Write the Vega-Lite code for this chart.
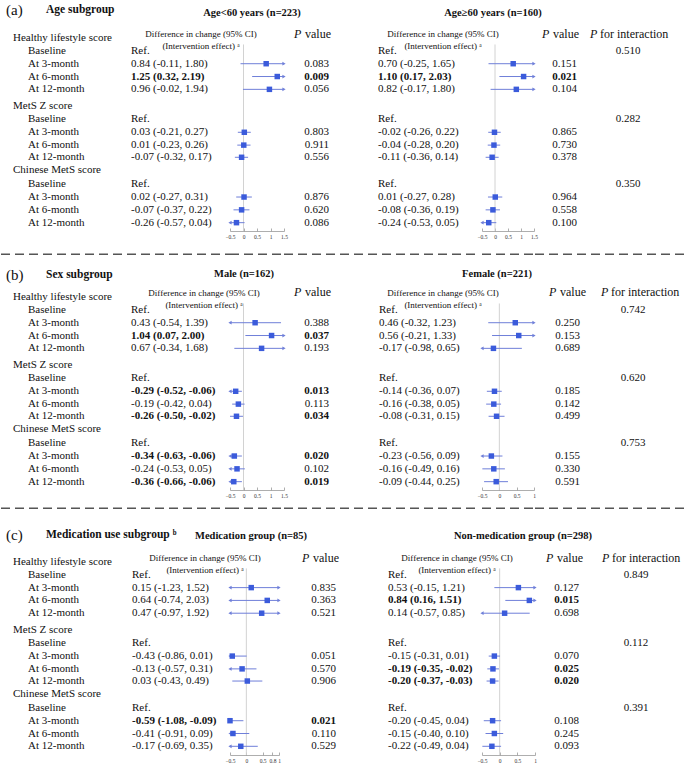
{
"$schema": "https://vega.github.io/schema/vega-lite/v6.json",
"padding": 0,
"columns": 5,
"align": "none",
"bounds": "flush",
"spacing": {"row": 28, "column": 0},
"datasets": {
"t": [
{"panel":"a","r":0,"k":"g","lab":"Healthy lifestyle score"},
{"panel":"a","r":1,"k":"i","lab":"Baseline","e1":"Ref.","e2":"Ref.","pi":0.510},
{"panel":"a","r":2,"k":"i","lab":"At 3-month","e1":"0.84 (-0.11, 1.80)","m1":0.84,"l1":-0.11,"h1":1.80,"p1":0.083,"e2":"0.70 (-0.25, 1.65)","m2":0.70,"l2":-0.25,"h2":1.65,"p2":0.151},
{"panel":"a","r":3,"k":"i","lab":"At 6-month","e1":"1.25 (0.32, 2.19)","m1":1.25,"l1":0.32,"h1":2.19,"p1":0.009,"e2":"1.10 (0.17, 2.03)","m2":1.10,"l2":0.17,"h2":2.03,"p2":0.021},
{"panel":"a","r":4,"k":"i","lab":"At 12-month","e1":"0.96 (-0.02, 1.94)","m1":0.96,"l1":-0.02,"h1":1.94,"p1":0.056,"e2":"0.82 (-0.17, 1.80)","m2":0.82,"l2":-0.17,"h2":1.80,"p2":0.104},
{"panel":"a","r":5.3,"k":"g","lab":"MetS Z score"},
{"panel":"a","r":6.35,"k":"i","lab":"Baseline","e1":"Ref.","e2":"Ref.","pi":0.282},
{"panel":"a","r":7.35,"k":"i","lab":"At 3-month","e1":"0.03 (-0.21, 0.27)","m1":0.03,"l1":-0.21,"h1":0.27,"p1":0.803,"e2":"-0.02 (-0.26, 0.22)","m2":-0.02,"l2":-0.26,"h2":0.22,"p2":0.865},
{"panel":"a","r":8.35,"k":"i","lab":"At 6-month","e1":"0.01 (-0.23, 0.26)","m1":0.01,"l1":-0.23,"h1":0.26,"p1":0.911,"e2":"-0.04 (-0.28, 0.20)","m2":-0.04,"l2":-0.28,"h2":0.20,"p2":0.730},
{"panel":"a","r":9.3,"k":"i","lab":"At 12-month","e1":"-0.07 (-0.32, 0.17)","m1":-0.07,"l1":-0.32,"h1":0.17,"p1":0.556,"e2":"-0.11 (-0.36, 0.14)","m2":-0.11,"l2":-0.36,"h2":0.14,"p2":0.378},
{"panel":"a","r":10.3,"k":"g","lab":"Chinese MetS score"},
{"panel":"a","r":11.4,"k":"i","lab":"Baseline","e1":"Ref.","e2":"Ref.","pi":0.350},
{"panel":"a","r":12.4,"k":"i","lab":"At 3-month","e1":"0.02 (-0.27, 0.31)","m1":0.02,"l1":-0.27,"h1":0.31,"p1":0.876,"e2":"0.01 (-0.27, 0.28)","m2":0.01,"l2":-0.27,"h2":0.28,"p2":0.964},
{"panel":"a","r":13.4,"k":"i","lab":"At 6-month","e1":"-0.07 (-0.37, 0.22)","m1":-0.07,"l1":-0.37,"h1":0.22,"p1":0.620,"e2":"-0.08 (-0.36, 0.19)","m2":-0.08,"l2":-0.36,"h2":0.19,"p2":0.558},
{"panel":"a","r":14.4,"k":"i","lab":"At 12-month","e1":"-0.26 (-0.57, 0.04)","m1":-0.26,"l1":-0.57,"h1":0.04,"p1":0.086,"e2":"-0.24 (-0.53, 0.05)","m2":-0.24,"l2":-0.53,"h2":0.05,"p2":0.100},
{"panel":"b","r":0,"k":"g","lab":"Healthy lifestyle score"},
{"panel":"b","r":1,"k":"i","lab":"Baseline","e1":"Ref.","e2":"Ref.","pi":0.742},
{"panel":"b","r":2,"k":"i","lab":"At 3-month","e1":"0.43 (-0.54, 1.39)","m1":0.43,"l1":-0.54,"h1":1.39,"p1":0.388,"e2":"0.46 (-0.32, 1.23)","m2":0.46,"l2":-0.32,"h2":1.23,"p2":0.250},
{"panel":"b","r":3,"k":"i","lab":"At 6-month","e1":"1.04 (0.07, 2.00)","m1":1.04,"l1":0.07,"h1":2.00,"p1":0.037,"e2":"0.56 (-0.21, 1.33)","m2":0.56,"l2":-0.21,"h2":1.33,"p2":0.153},
{"panel":"b","r":4,"k":"i","lab":"At 12-month","e1":"0.67 (-0.34, 1.68)","m1":0.67,"l1":-0.34,"h1":1.68,"p1":0.193,"e2":"-0.17 (-0.98, 0.65)","m2":-0.17,"l2":-0.98,"h2":0.65,"p2":0.689},
{"panel":"b","r":5.3,"k":"g","lab":"MetS Z score"},
{"panel":"b","r":6.35,"k":"i","lab":"Baseline","e1":"Ref.","e2":"Ref.","pi":0.620},
{"panel":"b","r":7.35,"k":"i","lab":"At 3-month","e1":"-0.29 (-0.52, -0.06)","m1":-0.29,"l1":-0.52,"h1":-0.06,"p1":0.013,"e2":"-0.14 (-0.36, 0.07)","m2":-0.14,"l2":-0.36,"h2":0.07,"p2":0.185},
{"panel":"b","r":8.35,"k":"i","lab":"At 6-month","e1":"-0.19 (-0.42, 0.04)","m1":-0.19,"l1":-0.42,"h1":0.04,"p1":0.113,"e2":"-0.16 (-0.38, 0.05)","m2":-0.16,"l2":-0.38,"h2":0.05,"p2":0.142},
{"panel":"b","r":9.3,"k":"i","lab":"At 12-month","e1":"-0.26 (-0.50, -0.02)","m1":-0.26,"l1":-0.50,"h1":-0.02,"p1":0.034,"e2":"-0.08 (-0.31, 0.15)","m2":-0.08,"l2":-0.31,"h2":0.15,"p2":0.499},
{"panel":"b","r":10.3,"k":"g","lab":"Chinese MetS score"},
{"panel":"b","r":11.4,"k":"i","lab":"Baseline","e1":"Ref.","e2":"Ref.","pi":0.753},
{"panel":"b","r":12.4,"k":"i","lab":"At 3-month","e1":"-0.34 (-0.63, -0.06)","m1":-0.34,"l1":-0.63,"h1":-0.06,"p1":0.020,"e2":"-0.23 (-0.56, 0.09)","m2":-0.23,"l2":-0.56,"h2":0.09,"p2":0.155},
{"panel":"b","r":13.4,"k":"i","lab":"At 6-month","e1":"-0.24 (-0.53, 0.05)","m1":-0.24,"l1":-0.53,"h1":0.05,"p1":0.102,"e2":"-0.16 (-0.49, 0.16)","m2":-0.16,"l2":-0.49,"h2":0.16,"p2":0.330},
{"panel":"b","r":14.4,"k":"i","lab":"At 12-month","e1":"-0.36 (-0.66, -0.06)","m1":-0.36,"l1":-0.66,"h1":-0.06,"p1":0.019,"e2":"-0.09 (-0.44, 0.25)","m2":-0.09,"l2":-0.44,"h2":0.25,"p2":0.591},
{"panel":"c","r":0,"k":"g","lab":"Healthy lifestyle score"},
{"panel":"c","r":1,"k":"i","lab":"Baseline","e1":"Ref.","e2":"Ref.","pi":0.849},
{"panel":"c","r":2,"k":"i","lab":"At 3-month","e1":"0.15 (-1.23, 1.52)","m1":0.15,"l1":-1.23,"h1":1.52,"p1":0.835,"e2":"0.53 (-0.15, 1.21)","m2":0.53,"l2":-0.15,"h2":1.21,"p2":0.127},
{"panel":"c","r":3,"k":"i","lab":"At 6-month","e1":"0.64 (-0.74, 2.03)","m1":0.64,"l1":-0.74,"h1":2.03,"p1":0.363,"e2":"0.84 (0.16, 1.51)","m2":0.84,"l2":0.16,"h2":1.51,"p2":0.015},
{"panel":"c","r":4,"k":"i","lab":"At 12-month","e1":"0.47 (-0.97, 1.92)","m1":0.47,"l1":-0.97,"h1":1.92,"p1":0.521,"e2":"0.14 (-0.57, 0.85)","m2":0.14,"l2":-0.57,"h2":0.85,"p2":0.698},
{"panel":"c","r":5.3,"k":"g","lab":"MetS Z score"},
{"panel":"c","r":6.35,"k":"i","lab":"Baseline","e1":"Ref.","e2":"Ref.","pi":0.112},
{"panel":"c","r":7.35,"k":"i","lab":"At 3-month","e1":"-0.43 (-0.86, 0.01)","m1":-0.43,"l1":-0.86,"h1":0.01,"p1":0.051,"e2":"-0.15 (-0.31, 0.01)","m2":-0.15,"l2":-0.31,"h2":0.01,"p2":0.070},
{"panel":"c","r":8.35,"k":"i","lab":"At 6-month","e1":"-0.13 (-0.57, 0.31)","m1":-0.13,"l1":-0.57,"h1":0.31,"p1":0.570,"e2":"-0.19 (-0.35, -0.02)","m2":-0.19,"l2":-0.35,"h2":-0.02,"p2":0.025},
{"panel":"c","r":9.3,"k":"i","lab":"At 12-month","e1":"0.03 (-0.43, 0.49)","m1":0.03,"l1":-0.43,"h1":0.49,"p1":0.906,"e2":"-0.20 (-0.37, -0.03)","m2":-0.20,"l2":-0.37,"h2":-0.03,"p2":0.020},
{"panel":"c","r":10.3,"k":"g","lab":"Chinese MetS score"},
{"panel":"c","r":11.4,"k":"i","lab":"Baseline","e1":"Ref.","e2":"Ref.","pi":0.391},
{"panel":"c","r":12.4,"k":"i","lab":"At 3-month","e1":"-0.59 (-1.08, -0.09)","m1":-0.59,"l1":-1.08,"h1":-0.09,"p1":0.021,"e2":"-0.20 (-0.45, 0.04)","m2":-0.20,"l2":-0.45,"h2":0.04,"p2":0.108},
{"panel":"c","r":13.4,"k":"i","lab":"At 6-month","e1":"-0.41 (-0.91, 0.09)","m1":-0.41,"l1":-0.91,"h1":0.09,"p1":0.110,"e2":"-0.15 (-0.40, 0.10)","m2":-0.15,"l2":-0.40,"h2":0.10,"p2":0.245},
{"panel":"c","r":14.4,"k":"i","lab":"At 12-month","e1":"-0.17 (-0.69, 0.35)","m1":-0.17,"l1":-0.69,"h1":0.35,"p1":0.529,"e2":"-0.22 (-0.49, 0.04)","m2":-0.22,"l2":-0.49,"h2":0.04,"p2":0.093}
]
},
"concat": [
{"width":229,"height":231,"layer":[
 {"data":{"name":"t"},"transform":[{"filter":"datum.panel=='a' && datum.k=='g'"}],"mark":{"type":"text","align":"left"},"encoding":{"x":{"datum":12,"type":"quantitative","scale":{"domain":[0,229],"nice":false},"axis":null},"y":{"field":"r","type":"quantitative","scale":{"domain":[-2.97,15.05],"reverse":true,"nice":false},"axis":null},"text":{"field":"lab","type":"nominal"}}},
 {"data":{"name":"t"},"transform":[{"filter":"datum.panel=='a' && datum.k=='i'"}],"mark":{"type":"text","align":"left"},"encoding":{"x":{"datum":27,"type":"quantitative","scale":{"domain":[0,229],"nice":false},"axis":null},"y":{"field":"r","type":"quantitative","scale":{"domain":[-2.97,15.05],"reverse":true,"nice":false},"axis":null},"text":{"field":"lab","type":"nominal"}}},
 {"data":{"name":"t"},"transform":[{"filter":"datum.panel=='a' && isValid(datum.e1)"}],"mark":{"type":"text","align":"left","fontWeight":{"expr":"isValid(datum.p1) && datum.p1 < 0.05 ? 'bold' : 'normal'"}},"encoding":{"x":{"datum":130,"type":"quantitative","scale":{"domain":[0,229],"nice":false},"axis":null},"y":{"field":"r","type":"quantitative","scale":{"domain":[-2.97,15.05],"reverse":true,"nice":false},"axis":null},"text":{"field":"e1","type":"nominal"}}},
 {"data":{"values":[{}]},"mark":{"type":"text","align":"left","text":"(a)","fontSize":15},"encoding":{"x":{"datum":5,"type":"quantitative","scale":{"domain":[0,229],"nice":false},"axis":null},"y":{"datum":-2.19,"type":"quantitative","scale":{"domain":[-2.97,15.05],"reverse":true,"nice":false},"axis":null}}},
 {"data":{"values":[{}]},"mark":{"type":"text","align":"left","text":"Age subgroup","fontWeight":"bold","fontSize":11.5},"encoding":{"x":{"datum":45,"type":"quantitative","scale":{"domain":[0,229],"nice":false},"axis":null},"y":{"datum":-2.19,"type":"quantitative","scale":{"domain":[-2.97,15.05],"reverse":true,"nice":false},"axis":null}}},
 {"data":{"values":[{}]},"mark":{"type":"text","align":"center","text":["Difference in change (95% CI)","(Intervention effect) ᵃ"],"fontSize":9,"lineHeight":12},"encoding":{"x":{"datum":200,"type":"quantitative","scale":{"domain":[0,229],"nice":false},"axis":null},"y":{"datum":-0.31,"type":"quantitative","scale":{"domain":[-2.97,15.05],"reverse":true,"nice":false},"axis":null}}},
 {"data":{"values":[{}]},"mark":{"type":"text","align":"center","text":"Age<60 years (n=223)","fontWeight":"bold","fontSize":10.5},"encoding":{"x":{"datum":251,"type":"quantitative","scale":{"domain":[0,229],"nice":false},"axis":null},"y":{"datum":-1.95,"type":"quantitative","scale":{"domain":[-2.97,15.05],"reverse":true,"nice":false},"axis":null}}},
 {"data":{"values":[{}]},"mark":{"type":"rule","strokeDash":[9,5],"color":"#555555","strokeWidth":1.5},"encoding":{"x":{"datum":0,"type":"quantitative","scale":{"domain":[0,229],"nice":false},"axis":null},"x2":{"datum":229},"y":{"datum":16.87,"type":"quantitative","scale":{"domain":[-2.97,15.05],"reverse":true,"nice":false},"axis":null}}}
]},
{"width":54,"height":231,"layer":[
 {"data":{"values":[{}]},"mark":{"type":"rule","color":"#d2d2d2","strokeWidth":1},"encoding":{"x":{"datum":0,"type":"quantitative","scale":{"domain":[-0.5,1.5],"clamp":true,"nice":false},"axis":{"values":[-0.5,0,0.5,1,1.5],"format":"~g","title":null}},"y":{"datum":0.5,"type":"quantitative","scale":{"domain":[-2.97,15.05],"reverse":true,"nice":false},"axis":null},"y2":{"datum":15.05}}},
 {"data":{"name":"t"},"transform":[{"filter":"datum.panel=='a' && isValid(datum.m1)"}],"mark":{"type":"rule","color":"#6f7fd9","strokeWidth":1},"encoding":{"x":{"field":"l1","type":"quantitative","scale":{"domain":[-0.5,1.5],"clamp":true,"nice":false},"axis":{"values":[-0.5,0,0.5,1,1.5],"format":"~g","title":null}},"x2":{"field":"h1"},"y":{"field":"r","type":"quantitative","scale":{"domain":[-2.97,15.05],"reverse":true,"nice":false},"axis":null}}},
 {"data":{"name":"t"},"transform":[{"filter":"datum.panel=='a' && datum.h1 > 1.5"}],"mark":{"type":"point","shape":"triangle-right","filled":true,"opacity":1,"size":14,"color":"#6f7fd9"},"encoding":{"x":{"field":"h1","type":"quantitative","scale":{"domain":[-0.5,1.5],"clamp":true,"nice":false},"axis":{"values":[-0.5,0,0.5,1,1.5],"format":"~g","title":null}},"y":{"field":"r","type":"quantitative","scale":{"domain":[-2.97,15.05],"reverse":true,"nice":false},"axis":null}}},
 {"data":{"name":"t"},"transform":[{"filter":"datum.panel=='a' && datum.l1 < -0.5"}],"mark":{"type":"point","shape":"triangle-left","filled":true,"opacity":1,"size":14,"color":"#6f7fd9"},"encoding":{"x":{"field":"l1","type":"quantitative","scale":{"domain":[-0.5,1.5],"clamp":true,"nice":false},"axis":{"values":[-0.5,0,0.5,1,1.5],"format":"~g","title":null}},"y":{"field":"r","type":"quantitative","scale":{"domain":[-2.97,15.05],"reverse":true,"nice":false},"axis":null}}},
 {"data":{"name":"t"},"transform":[{"filter":"datum.panel=='a' && isValid(datum.m1)"}],"mark":{"type":"point","shape":"square","filled":true,"opacity":1,"size":30,"color":"#3b5bdb"},"encoding":{"x":{"field":"m1","type":"quantitative","scale":{"domain":[-0.5,1.5],"clamp":true,"nice":false},"axis":{"values":[-0.5,0,0.5,1,1.5],"format":"~g","title":null}},"y":{"field":"r","type":"quantitative","scale":{"domain":[-2.97,15.05],"reverse":true,"nice":false},"axis":null}}},
 {"data":{"values":[{}]},"mark":{"type":"rule","strokeDash":[9,5],"color":"#555555","strokeWidth":1.5},"encoding":{"x":{"datum":-0.5,"type":"quantitative","scale":{"domain":[-0.5,1.5],"clamp":true,"nice":false},"axis":{"values":[-0.5,0,0.5,1,1.5],"format":"~g","title":null}},"x2":{"datum":1.5},"y":{"datum":16.87,"type":"quantitative","scale":{"domain":[-2.97,15.05],"reverse":true,"nice":false},"axis":null}}}
]},
{"width":195,"height":231,"layer":[
 {"data":{"name":"t"},"transform":[{"filter":"datum.panel=='a' && isValid(datum.p1)"}],"mark":{"type":"text","align":"right","fontWeight":{"expr":"datum.p1 < 0.05 ? 'bold' : 'normal'"}},"encoding":{"x":{"datum":45,"type":"quantitative","scale":{"domain":[0,195],"nice":false},"axis":null},"y":{"field":"r","type":"quantitative","scale":{"domain":[-2.97,15.05],"reverse":true,"nice":false},"axis":null},"text":{"field":"p1","type":"quantitative","format":".3f"}}},
 {"data":{"name":"t"},"transform":[{"filter":"datum.panel=='a' && isValid(datum.e2)"}],"mark":{"type":"text","align":"left","fontWeight":{"expr":"isValid(datum.p2) && datum.p2 < 0.05 ? 'bold' : 'normal'"}},"encoding":{"x":{"datum":94,"type":"quantitative","scale":{"domain":[0,195],"nice":false},"axis":null},"y":{"field":"r","type":"quantitative","scale":{"domain":[-2.97,15.05],"reverse":true,"nice":false},"axis":null},"text":{"field":"e2","type":"nominal"}}},
 {"data":{"values":[{}]},"mark":{"type":"text","align":"left","text":"P","fontStyle":"italic","fontSize":12},"encoding":{"x":{"datum":10,"type":"quantitative","scale":{"domain":[0,195],"nice":false},"axis":null},"y":{"datum":-0.35,"type":"quantitative","scale":{"domain":[-2.97,15.05],"reverse":true,"nice":false},"axis":null}}},
 {"data":{"values":[{}]},"mark":{"type":"text","align":"left","text":"value","fontSize":12},"encoding":{"x":{"datum":21,"type":"quantitative","scale":{"domain":[0,195],"nice":false},"axis":null},"y":{"datum":-0.35,"type":"quantitative","scale":{"domain":[-2.97,15.05],"reverse":true,"nice":false},"axis":null}}},
 {"data":{"values":[{}]},"mark":{"type":"text","align":"center","text":["Difference in change (95% CI)","(Intervention effect) ᵃ"],"fontSize":9,"lineHeight":12},"encoding":{"x":{"datum":159,"type":"quantitative","scale":{"domain":[0,195],"nice":false},"axis":null},"y":{"datum":-0.31,"type":"quantitative","scale":{"domain":[-2.97,15.05],"reverse":true,"nice":false},"axis":null}}},
 {"data":{"values":[{}]},"mark":{"type":"text","align":"center","text":"Age≥60 years (n=160)","fontWeight":"bold","fontSize":10.5},"encoding":{"x":{"datum":209,"type":"quantitative","scale":{"domain":[0,195],"nice":false},"axis":null},"y":{"datum":-1.95,"type":"quantitative","scale":{"domain":[-2.97,15.05],"reverse":true,"nice":false},"axis":null}}},
 {"data":{"values":[{}]},"mark":{"type":"rule","strokeDash":[9,5],"color":"#555555","strokeWidth":1.5},"encoding":{"x":{"datum":0,"type":"quantitative","scale":{"domain":[0,195],"nice":false},"axis":null},"x2":{"datum":195},"y":{"datum":16.87,"type":"quantitative","scale":{"domain":[-2.97,15.05],"reverse":true,"nice":false},"axis":null}}}
]},
{"width":52,"height":231,"layer":[
 {"data":{"values":[{}]},"mark":{"type":"rule","color":"#d2d2d2","strokeWidth":1},"encoding":{"x":{"datum":0,"type":"quantitative","scale":{"domain":[-0.5,1.5],"clamp":true,"nice":false},"axis":{"values":[-0.5,0,0.5,1,1.5],"format":"~g","title":null}},"y":{"datum":0.5,"type":"quantitative","scale":{"domain":[-2.97,15.05],"reverse":true,"nice":false},"axis":null},"y2":{"datum":15.05}}},
 {"data":{"name":"t"},"transform":[{"filter":"datum.panel=='a' && isValid(datum.m2)"}],"mark":{"type":"rule","color":"#6f7fd9","strokeWidth":1},"encoding":{"x":{"field":"l2","type":"quantitative","scale":{"domain":[-0.5,1.5],"clamp":true,"nice":false},"axis":{"values":[-0.5,0,0.5,1,1.5],"format":"~g","title":null}},"x2":{"field":"h2"},"y":{"field":"r","type":"quantitative","scale":{"domain":[-2.97,15.05],"reverse":true,"nice":false},"axis":null}}},
 {"data":{"name":"t"},"transform":[{"filter":"datum.panel=='a' && datum.h2 > 1.5"}],"mark":{"type":"point","shape":"triangle-right","filled":true,"opacity":1,"size":14,"color":"#6f7fd9"},"encoding":{"x":{"field":"h2","type":"quantitative","scale":{"domain":[-0.5,1.5],"clamp":true,"nice":false},"axis":{"values":[-0.5,0,0.5,1,1.5],"format":"~g","title":null}},"y":{"field":"r","type":"quantitative","scale":{"domain":[-2.97,15.05],"reverse":true,"nice":false},"axis":null}}},
 {"data":{"name":"t"},"transform":[{"filter":"datum.panel=='a' && datum.l2 < -0.5"}],"mark":{"type":"point","shape":"triangle-left","filled":true,"opacity":1,"size":14,"color":"#6f7fd9"},"encoding":{"x":{"field":"l2","type":"quantitative","scale":{"domain":[-0.5,1.5],"clamp":true,"nice":false},"axis":{"values":[-0.5,0,0.5,1,1.5],"format":"~g","title":null}},"y":{"field":"r","type":"quantitative","scale":{"domain":[-2.97,15.05],"reverse":true,"nice":false},"axis":null}}},
 {"data":{"name":"t"},"transform":[{"filter":"datum.panel=='a' && isValid(datum.m2)"}],"mark":{"type":"point","shape":"square","filled":true,"opacity":1,"size":30,"color":"#3b5bdb"},"encoding":{"x":{"field":"m2","type":"quantitative","scale":{"domain":[-0.5,1.5],"clamp":true,"nice":false},"axis":{"values":[-0.5,0,0.5,1,1.5],"format":"~g","title":null}},"y":{"field":"r","type":"quantitative","scale":{"domain":[-2.97,15.05],"reverse":true,"nice":false},"axis":null}}},
 {"data":{"values":[{}]},"mark":{"type":"rule","strokeDash":[9,5],"color":"#555555","strokeWidth":1.5},"encoding":{"x":{"datum":-0.5,"type":"quantitative","scale":{"domain":[-0.5,1.5],"clamp":true,"nice":false},"axis":{"values":[-0.5,0,0.5,1,1.5],"format":"~g","title":null}},"x2":{"datum":1.5},"y":{"datum":16.87,"type":"quantitative","scale":{"domain":[-2.97,15.05],"reverse":true,"nice":false},"axis":null}}}
]},
{"width":155,"height":231,"layer":[
 {"data":{"name":"t"},"transform":[{"filter":"datum.panel=='a' && isValid(datum.p2)"}],"mark":{"type":"text","align":"right","fontWeight":{"expr":"datum.p2 < 0.05 ? 'bold' : 'normal'"}},"encoding":{"x":{"datum":42,"type":"quantitative","scale":{"domain":[0,155],"nice":false},"axis":null},"y":{"field":"r","type":"quantitative","scale":{"domain":[-2.97,15.05],"reverse":true,"nice":false},"axis":null},"text":{"field":"p2","type":"quantitative","format":".3f"}}},
 {"data":{"name":"t"},"transform":[{"filter":"datum.panel=='a' && isValid(datum.pi)"}],"mark":{"type":"text","align":"center"},"encoding":{"x":{"datum":93,"type":"quantitative","scale":{"domain":[0,155],"nice":false},"axis":null},"y":{"field":"r","type":"quantitative","scale":{"domain":[-2.97,15.05],"reverse":true,"nice":false},"axis":null},"text":{"field":"pi","type":"quantitative","format":".3f"}}},
 {"data":{"values":[{}]},"mark":{"type":"text","align":"left","text":"P","fontStyle":"italic","fontSize":12},"encoding":{"x":{"datum":7,"type":"quantitative","scale":{"domain":[0,155],"nice":false},"axis":null},"y":{"datum":-0.35,"type":"quantitative","scale":{"domain":[-2.97,15.05],"reverse":true,"nice":false},"axis":null}}},
 {"data":{"values":[{}]},"mark":{"type":"text","align":"left","text":"value","fontSize":12},"encoding":{"x":{"datum":18,"type":"quantitative","scale":{"domain":[0,155],"nice":false},"axis":null},"y":{"datum":-0.35,"type":"quantitative","scale":{"domain":[-2.97,15.05],"reverse":true,"nice":false},"axis":null}}},
 {"data":{"values":[{}]},"mark":{"type":"text","align":"left","text":"P","fontStyle":"italic","fontSize":12},"encoding":{"x":{"datum":55,"type":"quantitative","scale":{"domain":[0,155],"nice":false},"axis":null},"y":{"datum":-0.35,"type":"quantitative","scale":{"domain":[-2.97,15.05],"reverse":true,"nice":false},"axis":null}}},
 {"data":{"values":[{}]},"mark":{"type":"text","align":"left","text":"for interaction","fontSize":12},"encoding":{"x":{"datum":65,"type":"quantitative","scale":{"domain":[0,155],"nice":false},"axis":null},"y":{"datum":-0.35,"type":"quantitative","scale":{"domain":[-2.97,15.05],"reverse":true,"nice":false},"axis":null}}},
 {"data":{"values":[{}]},"mark":{"type":"rule","strokeDash":[9,5],"color":"#555555","strokeWidth":1.5},"encoding":{"x":{"datum":0,"type":"quantitative","scale":{"domain":[0,155],"nice":false},"axis":null},"x2":{"datum":155},"y":{"datum":16.87,"type":"quantitative","scale":{"domain":[-2.97,15.05],"reverse":true,"nice":false},"axis":null}}}
]},

{"width":229,"height":231,"layer":[
 {"data":{"name":"t"},"transform":[{"filter":"datum.panel=='b' && datum.k=='g'"}],"mark":{"type":"text","align":"left"},"encoding":{"x":{"datum":12,"type":"quantitative","scale":{"domain":[0,229],"nice":false},"axis":null},"y":{"field":"r","type":"quantitative","scale":{"domain":[-2.97,15.05],"reverse":true,"nice":false},"axis":null},"text":{"field":"lab","type":"nominal"}}},
 {"data":{"name":"t"},"transform":[{"filter":"datum.panel=='b' && datum.k=='i'"}],"mark":{"type":"text","align":"left"},"encoding":{"x":{"datum":27,"type":"quantitative","scale":{"domain":[0,229],"nice":false},"axis":null},"y":{"field":"r","type":"quantitative","scale":{"domain":[-2.97,15.05],"reverse":true,"nice":false},"axis":null},"text":{"field":"lab","type":"nominal"}}},
 {"data":{"name":"t"},"transform":[{"filter":"datum.panel=='b' && isValid(datum.e1)"}],"mark":{"type":"text","align":"left","fontWeight":{"expr":"isValid(datum.p1) && datum.p1 < 0.05 ? 'bold' : 'normal'"}},"encoding":{"x":{"datum":130,"type":"quantitative","scale":{"domain":[0,229],"nice":false},"axis":null},"y":{"field":"r","type":"quantitative","scale":{"domain":[-2.97,15.05],"reverse":true,"nice":false},"axis":null},"text":{"field":"e1","type":"nominal"}}},
 {"data":{"values":[{}]},"mark":{"type":"text","align":"left","text":"(b)","fontSize":15},"encoding":{"x":{"datum":5,"type":"quantitative","scale":{"domain":[0,229],"nice":false},"axis":null},"y":{"datum":-1.72,"type":"quantitative","scale":{"domain":[-2.97,15.05],"reverse":true,"nice":false},"axis":null}}},
 {"data":{"values":[{}]},"mark":{"type":"text","align":"left","text":"Sex subgroup","fontWeight":"bold","fontSize":11.5},"encoding":{"x":{"datum":45,"type":"quantitative","scale":{"domain":[0,229],"nice":false},"axis":null},"y":{"datum":-1.72,"type":"quantitative","scale":{"domain":[-2.97,15.05],"reverse":true,"nice":false},"axis":null}}},
 {"data":{"values":[{}]},"mark":{"type":"text","align":"center","text":["Difference in change (95% CI)","(Intervention effect) ᵃ"],"fontSize":9,"lineHeight":12},"encoding":{"x":{"datum":203,"type":"quantitative","scale":{"domain":[0,229],"nice":false},"axis":null},"y":{"datum":-0.35,"type":"quantitative","scale":{"domain":[-2.97,15.05],"reverse":true,"nice":false},"axis":null}}},
 {"data":{"values":[{}]},"mark":{"type":"text","align":"center","text":"Male (n=162)","fontWeight":"bold","fontSize":10.5},"encoding":{"x":{"datum":243,"type":"quantitative","scale":{"domain":[0,229],"nice":false},"axis":null},"y":{"datum":-1.8,"type":"quantitative","scale":{"domain":[-2.97,15.05],"reverse":true,"nice":false},"axis":null}}},
 {"data":{"values":[{}]},"mark":{"type":"rule","strokeDash":[9,5],"color":"#555555","strokeWidth":1.5},"encoding":{"x":{"datum":0,"type":"quantitative","scale":{"domain":[0,229],"nice":false},"axis":null},"x2":{"datum":229},"y":{"datum":16.48,"type":"quantitative","scale":{"domain":[-2.97,15.05],"reverse":true,"nice":false},"axis":null}}}
]},
{"width":54,"height":231,"layer":[
 {"data":{"values":[{}]},"mark":{"type":"rule","color":"#d2d2d2","strokeWidth":1},"encoding":{"x":{"datum":0,"type":"quantitative","scale":{"domain":[-0.5,1.5],"clamp":true,"nice":false},"axis":{"values":[-0.5,0,0.5,1,1.5],"format":"~g","title":null}},"y":{"datum":0.5,"type":"quantitative","scale":{"domain":[-2.97,15.05],"reverse":true,"nice":false},"axis":null},"y2":{"datum":15.05}}},
 {"data":{"name":"t"},"transform":[{"filter":"datum.panel=='b' && isValid(datum.m1)"}],"mark":{"type":"rule","color":"#6f7fd9","strokeWidth":1},"encoding":{"x":{"field":"l1","type":"quantitative","scale":{"domain":[-0.5,1.5],"clamp":true,"nice":false},"axis":{"values":[-0.5,0,0.5,1,1.5],"format":"~g","title":null}},"x2":{"field":"h1"},"y":{"field":"r","type":"quantitative","scale":{"domain":[-2.97,15.05],"reverse":true,"nice":false},"axis":null}}},
 {"data":{"name":"t"},"transform":[{"filter":"datum.panel=='b' && datum.h1 > 1.5"}],"mark":{"type":"point","shape":"triangle-right","filled":true,"opacity":1,"size":14,"color":"#6f7fd9"},"encoding":{"x":{"field":"h1","type":"quantitative","scale":{"domain":[-0.5,1.5],"clamp":true,"nice":false},"axis":{"values":[-0.5,0,0.5,1,1.5],"format":"~g","title":null}},"y":{"field":"r","type":"quantitative","scale":{"domain":[-2.97,15.05],"reverse":true,"nice":false},"axis":null}}},
 {"data":{"name":"t"},"transform":[{"filter":"datum.panel=='b' && datum.l1 < -0.5"}],"mark":{"type":"point","shape":"triangle-left","filled":true,"opacity":1,"size":14,"color":"#6f7fd9"},"encoding":{"x":{"field":"l1","type":"quantitative","scale":{"domain":[-0.5,1.5],"clamp":true,"nice":false},"axis":{"values":[-0.5,0,0.5,1,1.5],"format":"~g","title":null}},"y":{"field":"r","type":"quantitative","scale":{"domain":[-2.97,15.05],"reverse":true,"nice":false},"axis":null}}},
 {"data":{"name":"t"},"transform":[{"filter":"datum.panel=='b' && isValid(datum.m1)"}],"mark":{"type":"point","shape":"square","filled":true,"opacity":1,"size":30,"color":"#3b5bdb"},"encoding":{"x":{"field":"m1","type":"quantitative","scale":{"domain":[-0.5,1.5],"clamp":true,"nice":false},"axis":{"values":[-0.5,0,0.5,1,1.5],"format":"~g","title":null}},"y":{"field":"r","type":"quantitative","scale":{"domain":[-2.97,15.05],"reverse":true,"nice":false},"axis":null}}},
 {"data":{"values":[{}]},"mark":{"type":"rule","strokeDash":[9,5],"color":"#555555","strokeWidth":1.5},"encoding":{"x":{"datum":-0.5,"type":"quantitative","scale":{"domain":[-0.5,1.5],"clamp":true,"nice":false},"axis":{"values":[-0.5,0,0.5,1,1.5],"format":"~g","title":null}},"x2":{"datum":1.5},"y":{"datum":16.48,"type":"quantitative","scale":{"domain":[-2.97,15.05],"reverse":true,"nice":false},"axis":null}}}
]},
{"width":191,"height":231,"layer":[
 {"data":{"name":"t"},"transform":[{"filter":"datum.panel=='b' && isValid(datum.p1)"}],"mark":{"type":"text","align":"right","fontWeight":{"expr":"datum.p1 < 0.05 ? 'bold' : 'normal'"}},"encoding":{"x":{"datum":45,"type":"quantitative","scale":{"domain":[0,191],"nice":false},"axis":null},"y":{"field":"r","type":"quantitative","scale":{"domain":[-2.97,15.05],"reverse":true,"nice":false},"axis":null},"text":{"field":"p1","type":"quantitative","format":".3f"}}},
 {"data":{"name":"t"},"transform":[{"filter":"datum.panel=='b' && isValid(datum.e2)"}],"mark":{"type":"text","align":"left","fontWeight":{"expr":"isValid(datum.p2) && datum.p2 < 0.05 ? 'bold' : 'normal'"}},"encoding":{"x":{"datum":95,"type":"quantitative","scale":{"domain":[0,191],"nice":false},"axis":null},"y":{"field":"r","type":"quantitative","scale":{"domain":[-2.97,15.05],"reverse":true,"nice":false},"axis":null},"text":{"field":"e2","type":"nominal"}}},
 {"data":{"values":[{}]},"mark":{"type":"text","align":"left","text":"P","fontStyle":"italic","fontSize":12},"encoding":{"x":{"datum":10,"type":"quantitative","scale":{"domain":[0,191],"nice":false},"axis":null},"y":{"datum":-0.4,"type":"quantitative","scale":{"domain":[-2.97,15.05],"reverse":true,"nice":false},"axis":null}}},
 {"data":{"values":[{}]},"mark":{"type":"text","align":"left","text":"value","fontSize":12},"encoding":{"x":{"datum":21,"type":"quantitative","scale":{"domain":[0,191],"nice":false},"axis":null},"y":{"datum":-0.4,"type":"quantitative","scale":{"domain":[-2.97,15.05],"reverse":true,"nice":false},"axis":null}}},
 {"data":{"values":[{}]},"mark":{"type":"text","align":"center","text":["Difference in change (95% CI)","(Intervention effect) ᵃ"],"fontSize":9,"lineHeight":12},"encoding":{"x":{"datum":159,"type":"quantitative","scale":{"domain":[0,191],"nice":false},"axis":null},"y":{"datum":-0.35,"type":"quantitative","scale":{"domain":[-2.97,15.05],"reverse":true,"nice":false},"axis":null}}},
 {"data":{"values":[{}]},"mark":{"type":"text","align":"center","text":"Female (n=221)","fontWeight":"bold","fontSize":10.5},"encoding":{"x":{"datum":213,"type":"quantitative","scale":{"domain":[0,191],"nice":false},"axis":null},"y":{"datum":-1.8,"type":"quantitative","scale":{"domain":[-2.97,15.05],"reverse":true,"nice":false},"axis":null}}},
 {"data":{"values":[{}]},"mark":{"type":"rule","strokeDash":[9,5],"color":"#555555","strokeWidth":1.5},"encoding":{"x":{"datum":0,"type":"quantitative","scale":{"domain":[0,191],"nice":false},"axis":null},"x2":{"datum":191},"y":{"datum":16.48,"type":"quantitative","scale":{"domain":[-2.97,15.05],"reverse":true,"nice":false},"axis":null}}}
]},
{"width":52,"height":231,"layer":[
 {"data":{"values":[{}]},"mark":{"type":"rule","color":"#d2d2d2","strokeWidth":1},"encoding":{"x":{"datum":0,"type":"quantitative","scale":{"domain":[-0.5,1],"clamp":true,"nice":false},"axis":{"values":[-0.5,0,0.5,1],"format":"~g","title":null}},"y":{"datum":0.5,"type":"quantitative","scale":{"domain":[-2.97,15.05],"reverse":true,"nice":false},"axis":null},"y2":{"datum":15.05}}},
 {"data":{"name":"t"},"transform":[{"filter":"datum.panel=='b' && isValid(datum.m2)"}],"mark":{"type":"rule","color":"#6f7fd9","strokeWidth":1},"encoding":{"x":{"field":"l2","type":"quantitative","scale":{"domain":[-0.5,1],"clamp":true,"nice":false},"axis":{"values":[-0.5,0,0.5,1],"format":"~g","title":null}},"x2":{"field":"h2"},"y":{"field":"r","type":"quantitative","scale":{"domain":[-2.97,15.05],"reverse":true,"nice":false},"axis":null}}},
 {"data":{"name":"t"},"transform":[{"filter":"datum.panel=='b' && datum.h2 > 1"}],"mark":{"type":"point","shape":"triangle-right","filled":true,"opacity":1,"size":14,"color":"#6f7fd9"},"encoding":{"x":{"field":"h2","type":"quantitative","scale":{"domain":[-0.5,1],"clamp":true,"nice":false},"axis":{"values":[-0.5,0,0.5,1],"format":"~g","title":null}},"y":{"field":"r","type":"quantitative","scale":{"domain":[-2.97,15.05],"reverse":true,"nice":false},"axis":null}}},
 {"data":{"name":"t"},"transform":[{"filter":"datum.panel=='b' && datum.l2 < -0.5"}],"mark":{"type":"point","shape":"triangle-left","filled":true,"opacity":1,"size":14,"color":"#6f7fd9"},"encoding":{"x":{"field":"l2","type":"quantitative","scale":{"domain":[-0.5,1],"clamp":true,"nice":false},"axis":{"values":[-0.5,0,0.5,1],"format":"~g","title":null}},"y":{"field":"r","type":"quantitative","scale":{"domain":[-2.97,15.05],"reverse":true,"nice":false},"axis":null}}},
 {"data":{"name":"t"},"transform":[{"filter":"datum.panel=='b' && isValid(datum.m2)"}],"mark":{"type":"point","shape":"square","filled":true,"opacity":1,"size":30,"color":"#3b5bdb"},"encoding":{"x":{"field":"m2","type":"quantitative","scale":{"domain":[-0.5,1],"clamp":true,"nice":false},"axis":{"values":[-0.5,0,0.5,1],"format":"~g","title":null}},"y":{"field":"r","type":"quantitative","scale":{"domain":[-2.97,15.05],"reverse":true,"nice":false},"axis":null}}},
 {"data":{"values":[{}]},"mark":{"type":"rule","strokeDash":[9,5],"color":"#555555","strokeWidth":1.5},"encoding":{"x":{"datum":-0.5,"type":"quantitative","scale":{"domain":[-0.5,1],"clamp":true,"nice":false},"axis":{"values":[-0.5,0,0.5,1],"format":"~g","title":null}},"x2":{"datum":1},"y":{"datum":16.48,"type":"quantitative","scale":{"domain":[-2.97,15.05],"reverse":true,"nice":false},"axis":null}}}
]},
{"width":159,"height":231,"layer":[
 {"data":{"name":"t"},"transform":[{"filter":"datum.panel=='b' && isValid(datum.p2)"}],"mark":{"type":"text","align":"right","fontWeight":{"expr":"datum.p2 < 0.05 ? 'bold' : 'normal'"}},"encoding":{"x":{"datum":45,"type":"quantitative","scale":{"domain":[0,159],"nice":false},"axis":null},"y":{"field":"r","type":"quantitative","scale":{"domain":[-2.97,15.05],"reverse":true,"nice":false},"axis":null},"text":{"field":"p2","type":"quantitative","format":".3f"}}},
 {"data":{"name":"t"},"transform":[{"filter":"datum.panel=='b' && isValid(datum.pi)"}],"mark":{"type":"text","align":"center"},"encoding":{"x":{"datum":98,"type":"quantitative","scale":{"domain":[0,159],"nice":false},"axis":null},"y":{"field":"r","type":"quantitative","scale":{"domain":[-2.97,15.05],"reverse":true,"nice":false},"axis":null},"text":{"field":"pi","type":"quantitative","format":".3f"}}},
 {"data":{"values":[{}]},"mark":{"type":"text","align":"left","text":"P","fontStyle":"italic","fontSize":12},"encoding":{"x":{"datum":14,"type":"quantitative","scale":{"domain":[0,159],"nice":false},"axis":null},"y":{"datum":-0.4,"type":"quantitative","scale":{"domain":[-2.97,15.05],"reverse":true,"nice":false},"axis":null}}},
 {"data":{"values":[{}]},"mark":{"type":"text","align":"left","text":"value","fontSize":12},"encoding":{"x":{"datum":25,"type":"quantitative","scale":{"domain":[0,159],"nice":false},"axis":null},"y":{"datum":-0.4,"type":"quantitative","scale":{"domain":[-2.97,15.05],"reverse":true,"nice":false},"axis":null}}},
 {"data":{"values":[{}]},"mark":{"type":"text","align":"left","text":"P","fontStyle":"italic","fontSize":12},"encoding":{"x":{"datum":66,"type":"quantitative","scale":{"domain":[0,159],"nice":false},"axis":null},"y":{"datum":-0.4,"type":"quantitative","scale":{"domain":[-2.97,15.05],"reverse":true,"nice":false},"axis":null}}},
 {"data":{"values":[{}]},"mark":{"type":"text","align":"left","text":"for interaction","fontSize":12},"encoding":{"x":{"datum":76,"type":"quantitative","scale":{"domain":[0,159],"nice":false},"axis":null},"y":{"datum":-0.4,"type":"quantitative","scale":{"domain":[-2.97,15.05],"reverse":true,"nice":false},"axis":null}}},
 {"data":{"values":[{}]},"mark":{"type":"rule","strokeDash":[9,5],"color":"#555555","strokeWidth":1.5},"encoding":{"x":{"datum":0,"type":"quantitative","scale":{"domain":[0,159],"nice":false},"axis":null},"x2":{"datum":159},"y":{"datum":16.48,"type":"quantitative","scale":{"domain":[-2.97,15.05],"reverse":true,"nice":false},"axis":null}}}
]},

{"width":226,"height":237,"layer":[
 {"data":{"name":"t"},"transform":[{"filter":"datum.panel=='c' && datum.k=='g'"}],"mark":{"type":"text","align":"left"},"encoding":{"x":{"datum":12,"type":"quantitative","scale":{"domain":[0,226],"nice":false},"axis":null},"y":{"field":"r","type":"quantitative","scale":{"domain":[-3.44,15.08],"reverse":true,"nice":false},"axis":null},"text":{"field":"lab","type":"nominal"}}},
 {"data":{"name":"t"},"transform":[{"filter":"datum.panel=='c' && datum.k=='i'"}],"mark":{"type":"text","align":"left"},"encoding":{"x":{"datum":27,"type":"quantitative","scale":{"domain":[0,226],"nice":false},"axis":null},"y":{"field":"r","type":"quantitative","scale":{"domain":[-3.44,15.08],"reverse":true,"nice":false},"axis":null},"text":{"field":"lab","type":"nominal"}}},
 {"data":{"name":"t"},"transform":[{"filter":"datum.panel=='c' && isValid(datum.e1)"}],"mark":{"type":"text","align":"left","fontWeight":{"expr":"isValid(datum.p1) && datum.p1 < 0.05 ? 'bold' : 'normal'"}},"encoding":{"x":{"datum":131,"type":"quantitative","scale":{"domain":[0,226],"nice":false},"axis":null},"y":{"field":"r","type":"quantitative","scale":{"domain":[-3.44,15.08],"reverse":true,"nice":false},"axis":null},"text":{"field":"e1","type":"nominal"}}},
 {"data":{"values":[{}]},"mark":{"type":"text","align":"left","text":"(c)","fontSize":15},"encoding":{"x":{"datum":5,"type":"quantitative","scale":{"domain":[0,226],"nice":false},"axis":null},"y":{"datum":-2.1,"type":"quantitative","scale":{"domain":[-3.44,15.08],"reverse":true,"nice":false},"axis":null}}},
 {"data":{"values":[{}]},"mark":{"type":"text","align":"left","text":"Medication use subgroup ᵇ","fontWeight":"bold","fontSize":11.5},"encoding":{"x":{"datum":45,"type":"quantitative","scale":{"domain":[0,226],"nice":false},"axis":null},"y":{"datum":-2.1,"type":"quantitative","scale":{"domain":[-3.44,15.08],"reverse":true,"nice":false},"axis":null}}},
 {"data":{"values":[{}]},"mark":{"type":"text","align":"center","text":["Difference in change (95% CI)","(Intervention effect) ᵃ"],"fontSize":9,"lineHeight":12},"encoding":{"x":{"datum":204,"type":"quantitative","scale":{"domain":[0,226],"nice":false},"axis":null},"y":{"datum":-0.35,"type":"quantitative","scale":{"domain":[-3.44,15.08],"reverse":true,"nice":false},"axis":null}}},
 {"data":{"values":[{}]},"mark":{"type":"text","align":"center","text":"Medication group (n=85)","fontWeight":"bold","fontSize":10.5},"encoding":{"x":{"datum":250,"type":"quantitative","scale":{"domain":[0,226],"nice":false},"axis":null},"y":{"datum":-2.05,"type":"quantitative","scale":{"domain":[-3.44,15.08],"reverse":true,"nice":false},"axis":null}}}
]},
{"width":49,"height":237,"layer":[
 {"data":{"values":[{}]},"mark":{"type":"rule","color":"#d2d2d2","strokeWidth":1},"encoding":{"x":{"datum":0,"type":"quantitative","scale":{"domain":[-0.5,1],"clamp":true,"nice":false},"axis":{"values":[-0.5,0,0.5,0.8,1],"format":"~g","title":null}},"y":{"datum":0.5,"type":"quantitative","scale":{"domain":[-3.44,15.08],"reverse":true,"nice":false},"axis":null},"y2":{"datum":15.08}}},
 {"data":{"name":"t"},"transform":[{"filter":"datum.panel=='c' && isValid(datum.m1)"}],"mark":{"type":"rule","color":"#6f7fd9","strokeWidth":1},"encoding":{"x":{"field":"l1","type":"quantitative","scale":{"domain":[-0.5,1],"clamp":true,"nice":false},"axis":{"values":[-0.5,0,0.5,0.8,1],"format":"~g","title":null}},"x2":{"field":"h1"},"y":{"field":"r","type":"quantitative","scale":{"domain":[-3.44,15.08],"reverse":true,"nice":false},"axis":null}}},
 {"data":{"name":"t"},"transform":[{"filter":"datum.panel=='c' && datum.h1 > 1"}],"mark":{"type":"point","shape":"triangle-right","filled":true,"opacity":1,"size":14,"color":"#6f7fd9"},"encoding":{"x":{"field":"h1","type":"quantitative","scale":{"domain":[-0.5,1],"clamp":true,"nice":false},"axis":{"values":[-0.5,0,0.5,0.8,1],"format":"~g","title":null}},"y":{"field":"r","type":"quantitative","scale":{"domain":[-3.44,15.08],"reverse":true,"nice":false},"axis":null}}},
 {"data":{"name":"t"},"transform":[{"filter":"datum.panel=='c' && datum.l1 < -0.5"}],"mark":{"type":"point","shape":"triangle-left","filled":true,"opacity":1,"size":14,"color":"#6f7fd9"},"encoding":{"x":{"field":"l1","type":"quantitative","scale":{"domain":[-0.5,1],"clamp":true,"nice":false},"axis":{"values":[-0.5,0,0.5,0.8,1],"format":"~g","title":null}},"y":{"field":"r","type":"quantitative","scale":{"domain":[-3.44,15.08],"reverse":true,"nice":false},"axis":null}}},
 {"data":{"name":"t"},"transform":[{"filter":"datum.panel=='c' && isValid(datum.m1)"}],"mark":{"type":"point","shape":"square","filled":true,"opacity":1,"size":30,"color":"#3b5bdb"},"encoding":{"x":{"field":"m1","type":"quantitative","scale":{"domain":[-0.5,1],"clamp":true,"nice":false},"axis":{"values":[-0.5,0,0.5,0.8,1],"format":"~g","title":null}},"y":{"field":"r","type":"quantitative","scale":{"domain":[-3.44,15.08],"reverse":true,"nice":false},"axis":null}}}
]},
{"width":198,"height":237,"layer":[
 {"data":{"name":"t"},"transform":[{"filter":"datum.panel=='c' && isValid(datum.p1)"}],"mark":{"type":"text","align":"right","fontWeight":{"expr":"datum.p1 < 0.05 ? 'bold' : 'normal'"}},"encoding":{"x":{"datum":52,"type":"quantitative","scale":{"domain":[0,198],"nice":false},"axis":null},"y":{"field":"r","type":"quantitative","scale":{"domain":[-3.44,15.08],"reverse":true,"nice":false},"axis":null},"text":{"field":"p1","type":"quantitative","format":".3f"}}},
 {"data":{"name":"t"},"transform":[{"filter":"datum.panel=='c' && isValid(datum.e2)"}],"mark":{"type":"text","align":"left","fontWeight":{"expr":"isValid(datum.p2) && datum.p2 < 0.05 ? 'bold' : 'normal'"}},"encoding":{"x":{"datum":104,"type":"quantitative","scale":{"domain":[0,198],"nice":false},"axis":null},"y":{"field":"r","type":"quantitative","scale":{"domain":[-3.44,15.08],"reverse":true,"nice":false},"axis":null},"text":{"field":"e2","type":"nominal"}}},
 {"data":{"values":[{}]},"mark":{"type":"text","align":"left","text":"P","fontStyle":"italic","fontSize":12},"encoding":{"x":{"datum":18,"type":"quantitative","scale":{"domain":[0,198],"nice":false},"axis":null},"y":{"datum":-0.31,"type":"quantitative","scale":{"domain":[-3.44,15.08],"reverse":true,"nice":false},"axis":null}}},
 {"data":{"values":[{}]},"mark":{"type":"text","align":"left","text":"value","fontSize":12},"encoding":{"x":{"datum":29,"type":"quantitative","scale":{"domain":[0,198],"nice":false},"axis":null},"y":{"datum":-0.31,"type":"quantitative","scale":{"domain":[-3.44,15.08],"reverse":true,"nice":false},"axis":null}}},
 {"data":{"values":[{}]},"mark":{"type":"text","align":"center","text":["Difference in change (95% CI)","(Intervention effect) ᵃ"],"fontSize":9,"lineHeight":12},"encoding":{"x":{"datum":173,"type":"quantitative","scale":{"domain":[0,198],"nice":false},"axis":null},"y":{"datum":-0.35,"type":"quantitative","scale":{"domain":[-3.44,15.08],"reverse":true,"nice":false},"axis":null}}},
 {"data":{"values":[{}]},"mark":{"type":"text","align":"center","text":"Non-medication group (n=298)","fontWeight":"bold","fontSize":10.5},"encoding":{"x":{"datum":239,"type":"quantitative","scale":{"domain":[0,198],"nice":false},"axis":null},"y":{"datum":-2.05,"type":"quantitative","scale":{"domain":[-3.44,15.08],"reverse":true,"nice":false},"axis":null}}}
]},
{"width":53,"height":237,"layer":[
 {"data":{"values":[{}]},"mark":{"type":"rule","color":"#d2d2d2","strokeWidth":1},"encoding":{"x":{"datum":0,"type":"quantitative","scale":{"domain":[-0.5,1],"clamp":true,"nice":false},"axis":{"values":[-0.5,0,0.5,1],"format":"~g","title":null}},"y":{"datum":0.5,"type":"quantitative","scale":{"domain":[-3.44,15.08],"reverse":true,"nice":false},"axis":null},"y2":{"datum":15.08}}},
 {"data":{"name":"t"},"transform":[{"filter":"datum.panel=='c' && isValid(datum.m2)"}],"mark":{"type":"rule","color":"#6f7fd9","strokeWidth":1},"encoding":{"x":{"field":"l2","type":"quantitative","scale":{"domain":[-0.5,1],"clamp":true,"nice":false},"axis":{"values":[-0.5,0,0.5,1],"format":"~g","title":null}},"x2":{"field":"h2"},"y":{"field":"r","type":"quantitative","scale":{"domain":[-3.44,15.08],"reverse":true,"nice":false},"axis":null}}},
 {"data":{"name":"t"},"transform":[{"filter":"datum.panel=='c' && datum.h2 > 1"}],"mark":{"type":"point","shape":"triangle-right","filled":true,"opacity":1,"size":14,"color":"#6f7fd9"},"encoding":{"x":{"field":"h2","type":"quantitative","scale":{"domain":[-0.5,1],"clamp":true,"nice":false},"axis":{"values":[-0.5,0,0.5,1],"format":"~g","title":null}},"y":{"field":"r","type":"quantitative","scale":{"domain":[-3.44,15.08],"reverse":true,"nice":false},"axis":null}}},
 {"data":{"name":"t"},"transform":[{"filter":"datum.panel=='c' && datum.l2 < -0.5"}],"mark":{"type":"point","shape":"triangle-left","filled":true,"opacity":1,"size":14,"color":"#6f7fd9"},"encoding":{"x":{"field":"l2","type":"quantitative","scale":{"domain":[-0.5,1],"clamp":true,"nice":false},"axis":{"values":[-0.5,0,0.5,1],"format":"~g","title":null}},"y":{"field":"r","type":"quantitative","scale":{"domain":[-3.44,15.08],"reverse":true,"nice":false},"axis":null}}},
 {"data":{"name":"t"},"transform":[{"filter":"datum.panel=='c' && isValid(datum.m2)"}],"mark":{"type":"point","shape":"square","filled":true,"opacity":1,"size":30,"color":"#3b5bdb"},"encoding":{"x":{"field":"m2","type":"quantitative","scale":{"domain":[-0.5,1],"clamp":true,"nice":false},"axis":{"values":[-0.5,0,0.5,1],"format":"~g","title":null}},"y":{"field":"r","type":"quantitative","scale":{"domain":[-3.44,15.08],"reverse":true,"nice":false},"axis":null}}}
]},
{"width":159,"height":237,"layer":[
 {"data":{"name":"t"},"transform":[{"filter":"datum.panel=='c' && isValid(datum.p2)"}],"mark":{"type":"text","align":"right","fontWeight":{"expr":"datum.p2 < 0.05 ? 'bold' : 'normal'"}},"encoding":{"x":{"datum":44,"type":"quantitative","scale":{"domain":[0,159],"nice":false},"axis":null},"y":{"field":"r","type":"quantitative","scale":{"domain":[-3.44,15.08],"reverse":true,"nice":false},"axis":null},"text":{"field":"p2","type":"quantitative","format":".3f"}}},
 {"data":{"name":"t"},"transform":[{"filter":"datum.panel=='c' && isValid(datum.pi)"}],"mark":{"type":"text","align":"center"},"encoding":{"x":{"datum":101,"type":"quantitative","scale":{"domain":[0,159],"nice":false},"axis":null},"y":{"field":"r","type":"quantitative","scale":{"domain":[-3.44,15.08],"reverse":true,"nice":false},"axis":null},"text":{"field":"pi","type":"quantitative","format":".3f"}}},
 {"data":{"values":[{}]},"mark":{"type":"text","align":"left","text":"P","fontStyle":"italic","fontSize":12},"encoding":{"x":{"datum":11,"type":"quantitative","scale":{"domain":[0,159],"nice":false},"axis":null},"y":{"datum":-0.31,"type":"quantitative","scale":{"domain":[-3.44,15.08],"reverse":true,"nice":false},"axis":null}}},
 {"data":{"values":[{}]},"mark":{"type":"text","align":"left","text":"value","fontSize":12},"encoding":{"x":{"datum":22,"type":"quantitative","scale":{"domain":[0,159],"nice":false},"axis":null},"y":{"datum":-0.31,"type":"quantitative","scale":{"domain":[-3.44,15.08],"reverse":true,"nice":false},"axis":null}}},
 {"data":{"values":[{}]},"mark":{"type":"text","align":"left","text":"P","fontStyle":"italic","fontSize":12},"encoding":{"x":{"datum":67,"type":"quantitative","scale":{"domain":[0,159],"nice":false},"axis":null},"y":{"datum":-0.31,"type":"quantitative","scale":{"domain":[-3.44,15.08],"reverse":true,"nice":false},"axis":null}}},
 {"data":{"values":[{}]},"mark":{"type":"text","align":"left","text":"for interaction","fontSize":12},"encoding":{"x":{"datum":77,"type":"quantitative","scale":{"domain":[0,159],"nice":false},"axis":null},"y":{"datum":-0.31,"type":"quantitative","scale":{"domain":[-3.44,15.08],"reverse":true,"nice":false},"axis":null}}}
]}
],
"config": {
 "view": {"stroke": null},
 "text": {"font": "Liberation Serif", "fontSize": 11, "baseline": "middle", "color": "#111111"},
 "axisX": {"labelFont": "Liberation Serif", "labelFontSize": 5.5, "labelColor": "#333333", "tickSize": -3, "labelPadding": 6, "labelOverlap": false, "labelFlush": false, "domainColor": "#999999", "tickColor": "#999999", "domainWidth": 0.8, "tickWidth": 0.8, "grid": false}
}
}
